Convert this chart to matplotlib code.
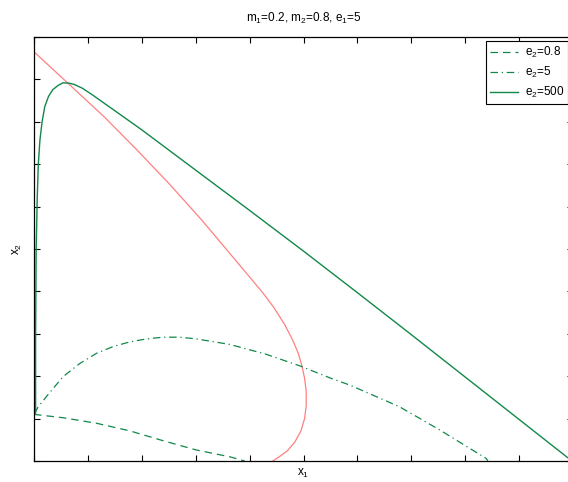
import matplotlib
matplotlib.use("Agg")
import matplotlib.pyplot as plt

plt.rcParams['font.family'] = ['Liberation Sans', 'DejaVu Sans']
plt.rcParams['mathtext.fontset'] = 'custom'
plt.rcParams['mathtext.rm'] = 'Liberation Sans'
plt.rcParams['mathtext.it'] = 'Liberation Sans'

# curves (x1, x2)
red_x = [0.0, 0.063, 0.13, 0.19, 0.25, 0.31, 0.363, 0.40, 0.425, 0.445, 0.465, 0.48,
         0.49, 0.497, 0.502, 0.505, 0.505, 0.502, 0.495, 0.484, 0.47, 0.455, 0.443]
red_y = [0.965, 0.891, 0.812, 0.735, 0.655, 0.57, 0.49, 0.434, 0.396, 0.362, 0.322,
         0.285, 0.255, 0.225, 0.195, 0.165, 0.13, 0.1, 0.07, 0.045, 0.024, 0.01, 0.0]

dash_x = [0.0, 0.054, 0.116, 0.178, 0.239, 0.301, 0.363, 0.391]
dash_y = [0.11, 0.102, 0.089, 0.071, 0.048, 0.026, 0.01, 0.0]

dashdot_x = [0.001, 0.0074, 0.023, 0.054, 0.085, 0.116, 0.147, 0.178, 0.209, 0.239, 0.27,
             0.301, 0.363, 0.43, 0.494, 0.549, 0.586, 0.678, 0.753, 0.839, 0.842]
dashdot_y = [0.112, 0.127, 0.152, 0.199, 0.23, 0.254, 0.27, 0.281, 0.288, 0.292, 0.292,
             0.288, 0.275, 0.252, 0.224, 0.196, 0.179, 0.128, 0.073, 0.006, 0.0]

solid_x = [0.003, 0.003, 0.004, 0.006, 0.008, 0.011, 0.015, 0.020, 0.027, 0.035, 0.045,
           0.054, 0.065, 0.075, 0.09, 0.109, 0.13, 0.159, 0.2, 0.3, 0.4, 0.5, 0.6, 0.7,
           0.8, 0.9, 0.99]
solid_y = [0.113, 0.3, 0.5, 0.62, 0.70, 0.757, 0.80, 0.836, 0.86, 0.876, 0.886, 0.892,
           0.891, 0.888, 0.879, 0.863, 0.844, 0.818, 0.781, 0.686, 0.591, 0.495, 0.397,
           0.298, 0.198, 0.098, 0.008]

labels = [r'e$_2$=0.8', r'e$_2$=5', r'e$_2$=500']
green = '#11884a'
red = '#ff8080'

fig = plt.figure(figsize=(5.68, 4.82), dpi=100)
ax = fig.add_axes([34 / 568, 21 / 482, 539 / 568, 424 / 482])

ax.plot(red_x, red_y, color=red, lw=0.9)
ax.plot(dash_x, dash_y, color=green, lw=0.9, dashes=(6, 4), label=labels[0])
ax.plot(dashdot_x, dashdot_y, color=green, lw=0.9, dashes=(6, 3, 1, 3), label=labels[1])
ax.plot(solid_x, solid_y, color=green, lw=1.0, label=labels[2])

ax.set_xlim(0, 1)
ax.set_ylim(0, 1)
ax.set_xticks([i / 10 for i in range(11)])
ax.set_yticks([i / 10 for i in range(11)])
ax.set_xticklabels([])
ax.set_yticklabels([])
ax.tick_params(direction='in', length=4, width=0.8, top=True, right=True)
for s in ax.spines.values():
    s.set_linewidth(0.9)

ax.set_title(r'm$_1$=0.2, m$_2$=0.8, e$_1$=5', fontsize=8.5, pad=11)
ax.set_xlabel(r'x$_1$', fontsize=8.5, labelpad=1)
ax.set_ylabel(r'x$_2$', fontsize=8.5, labelpad=4)

leg = ax.legend(loc='upper right', bbox_to_anchor=(0.991, 0.99), fontsize=8.5,
                fancybox=False, framealpha=1, edgecolor='black', handlelength=2.4,
                borderpad=0.3, labelspacing=0.42, handletextpad=0.6, borderaxespad=0)
leg.get_frame().set_linewidth(0.8)

fig.savefig('out.png', dpi=100)
